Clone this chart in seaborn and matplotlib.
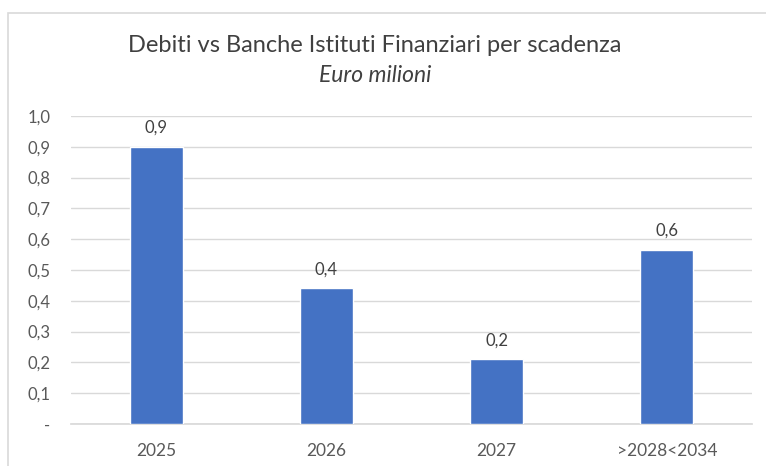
import matplotlib
matplotlib.use("Agg")
import matplotlib.pyplot as plt
import seaborn as sns
import pandas as pd
from matplotlib.patches import Rectangle

categories = ["2025", "2026", "2027", ">2028<2034"]
values = [0.90, 0.44, 0.21, 0.565]
bar_labels = ["0,9", "0,4", "0,2", "0,6"]
ytick_vals = [0.0, 0.1, 0.2, 0.3, 0.4, 0.5, 0.6, 0.7, 0.8, 0.9, 1.0]
ytick_labels = ["-", "0,1", "0,2", "0,3", "0,4", "0,5", "0,6", "0,7", "0,8", "0,9", "1,0"]

sns.set_theme(style="white")
plt.rcParams['font.family'] = ['Lato', 'DejaVu Sans']

df = pd.DataFrame({"cat": categories, "val": values})

fig = plt.figure(figsize=(7.66, 4.66), dpi=100)
ax = fig.add_axes([71/766, 1-424/466, (752-71)/766, (424-116)/466])

sns.barplot(data=df, x="cat", y="val", color="#4472C4", width=0.31,
            saturation=1, ax=ax, zorder=3)

ax.set_ylim(0, 1.0)
ax.set_xlim(-0.5, 3.5)
ax.set_yticks(ytick_vals)
ax.set_yticklabels(ytick_labels)
ax.yaxis.grid(True, color="#d9d9d9", linewidth=1)
ax.set_axisbelow(True)
for s in ax.spines.values():
    s.set_visible(False)
ax.spines['bottom'].set_visible(True)
ax.spines['bottom'].set_color("#d9d9d9")
ax.set_xlabel("")
ax.set_ylabel("")
ax.tick_params(axis='y', colors="#595959", labelsize=12, length=0, pad=15)
ax.tick_params(axis='x', colors="#595959", labelsize=12.5, length=0, pad=14)

for i, (v, lab) in enumerate(zip(values, bar_labels)):
    ax.annotate(lab, (i, v), xytext=(0, 8), textcoords="offset points",
                ha="center", va="bottom", fontsize=12, color="#404040")

fig.text(375/766, 1-45/466, "Debiti vs Banche Istituti Finanziari per scadenza",
         ha="center", va="center", fontsize=17, color="#404040")
fig.text(375/766, 1-76/466, "Euro milioni", ha="center", va="center",
         fontsize=16.5, style="italic", color="#404040")

fig.patches.append(Rectangle((8/766, -0.1), 1.2, 1.1-13/466, transform=fig.transFigure,
                             fill=False, edgecolor="#d9d9d9", linewidth=1.2))

fig.savefig("out.png", dpi=100)
